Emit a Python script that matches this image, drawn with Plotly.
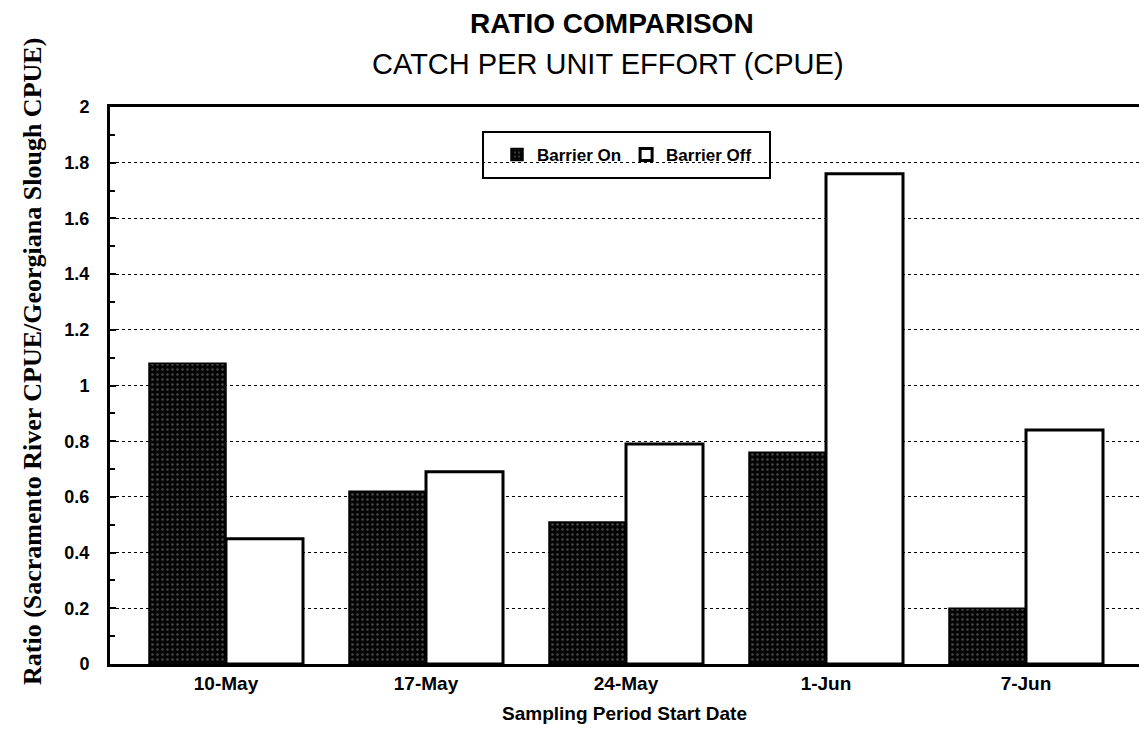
import plotly.graph_objects as go

# Sampling periods and CPUE ratios
periods = ["10-May", "17-May", "24-May", "1-Jun", "7-Jun"]
barrier_on = [1.08, 0.62, 0.51, 0.76, 0.20]
barrier_off = [0.45, 0.69, 0.79, 1.76, 0.84]
y_ticks = [0, 0.2, 0.4, 0.6, 0.8, 1, 1.2, 1.4, 1.6, 1.8, 2]
y_tick_text = ["0", "0.2", "0.4", "0.6", "0.8", "1", "1.2", "1.4", "1.6", "1.8", "2"]

SANS = "Liberation Sans, Arial, sans-serif"
SERIF = "Liberation Serif, Times New Roman, serif"

W, H = 1139, 738
L, R, T, B = 110, 0, 107, 74
PW, PH = W - L - R, H - T - B


def px_x(x):
    return (x - L) / PW


def px_y(y):
    return (H - B - y) / PH


fig = go.Figure()
fig.add_trace(go.Bar(
    x=periods, y=barrier_on, name="<b>Barrier On</b>",
    marker=dict(color="#050505", line=dict(color="black", width=1.5),
                pattern=dict(shape=".", fgcolor="#8a8a8a", bgcolor="#050505",
                             size=5, solidity=0.2, fgopacity=0.5)),
))
fig.add_trace(go.Bar(
    x=periods, y=barrier_off, name="<b>Barrier Off</b>",
    marker=dict(color="white", line=dict(color="black", width=3)),
))

fig.update_layout(
    width=W, height=H,
    margin=dict(l=L, r=R, t=T, b=B),
    paper_bgcolor="white", plot_bgcolor="white",
    barmode="group", bargap=0.23, bargroupgap=0,
    font=dict(family=SANS, color="black"),
    showlegend=True,
    legend=dict(
        orientation="h", x=px_x(627), y=px_y(155), xanchor="center", yanchor="middle",
        bgcolor="rgba(0,0,0,0)", borderwidth=0,
        font=dict(family=SANS, size=17, color="black"),
        itemwidth=30, traceorder="normal",
    ),
)

# legend frame
fig.add_shape(type="rect", xref="paper", yref="paper",
              x0=px_x(483), x1=px_x(770), y0=px_y(178), y1=px_y(132),
              line=dict(color="black", width=2), fillcolor="white", layer="below")

fig.update_xaxes(
    range=[-0.58, 4.565], showgrid=False,
    showline=True, linecolor="black", linewidth=3, mirror=True,
    ticks="", tickfont=dict(family=SANS, size=19, color="black"),
    ticklabelstandoff=0,
    tickprefix="<b>", ticksuffix="</b>",
    title=dict(text="<b>Sampling Period Start Date</b>",
               font=dict(family=SANS, size=19, color="black"), standoff=14),
)
fig.update_yaxes(
    range=[0, 2], tickvals=y_ticks, ticktext=["<b>%s</b>" % t for t in y_tick_text],
    showline=True, linecolor="black", linewidth=3,
    showgrid=True, gridcolor="black", gridwidth=1, griddash="dot",
    ticks="inside", ticklen=6, tickwidth=2, tickcolor="black",
    minor=dict(dtick=0.1, ticks="inside", ticklen=5, tickwidth=2, tickcolor="black", showgrid=False),
    tickfont=dict(family=SANS, size=18, color="black"),
    ticklabelstandoff=14,
    zeroline=False,
)

fig.add_annotation(text="<b>Ratio (Sacramento River CPUE/Georgiana Slough CPUE)</b>",
                   xref="paper", yref="paper", x=px_x(32), y=px_y(362),
                   xanchor="center", yanchor="middle", textangle=-90, showarrow=False,
                   font=dict(family=SERIF, size=26, color="black"))
fig.add_annotation(text="<b>RATIO COMPARISON</b>", xref="paper", yref="paper",
                   x=px_x(612), y=px_y(24), xanchor="center", yanchor="middle",
                   showarrow=False, font=dict(family=SANS, size=28, color="black"))
fig.add_annotation(text="CATCH PER UNIT EFFORT (CPUE)", xref="paper", yref="paper",
                   x=px_x(608), y=px_y(64), xanchor="center", yanchor="middle",
                   showarrow=False, font=dict(family=SANS, size=29, color="black"))

fig.write_html("out.html")
